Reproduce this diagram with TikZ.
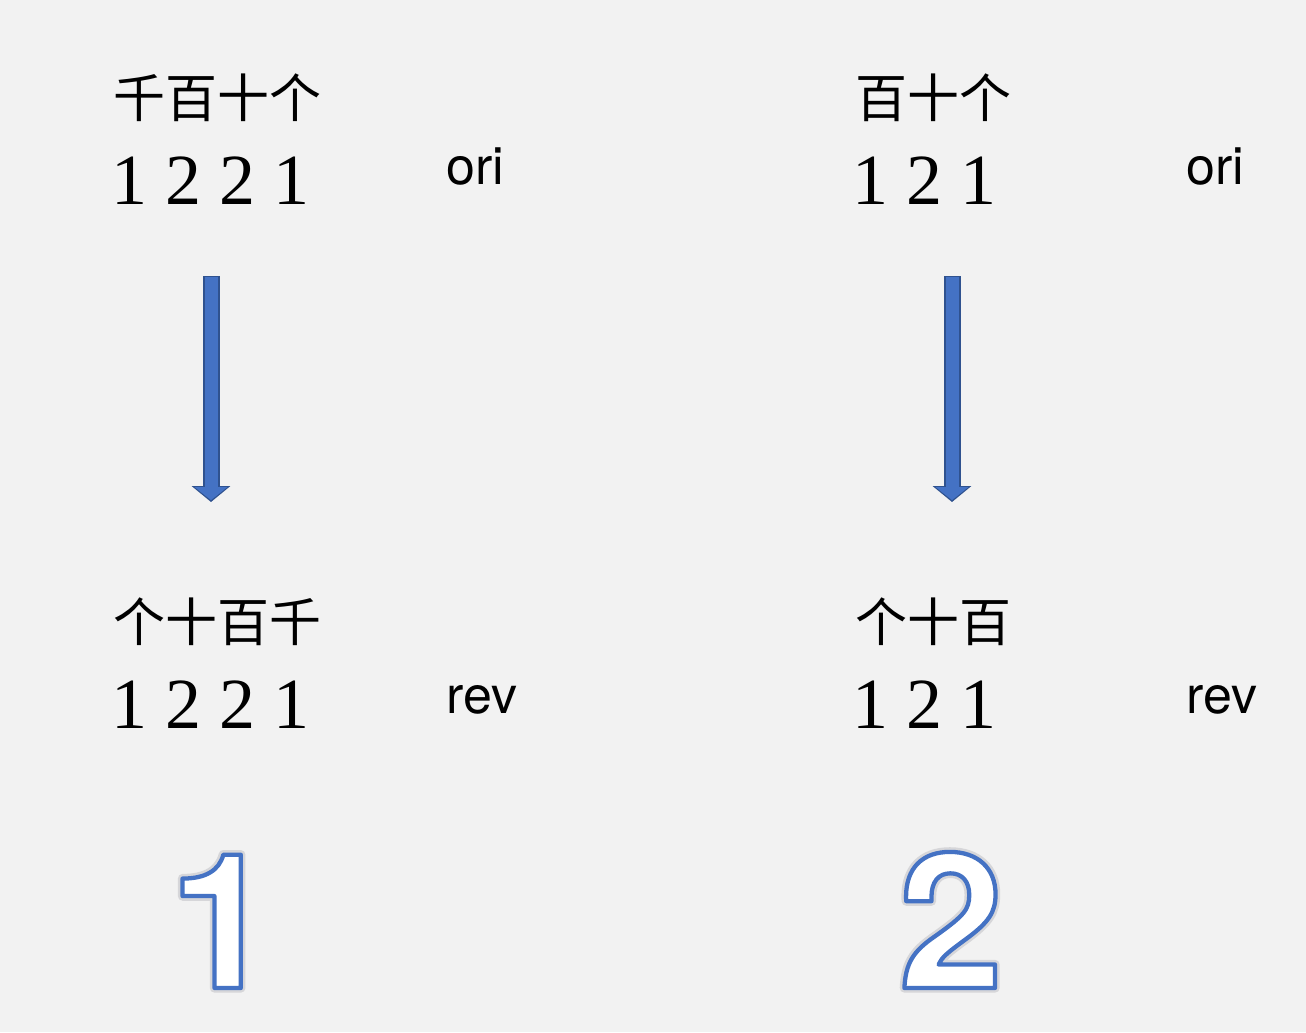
\documentclass[tikz,border=0pt]{standalone}
\usepackage{fontspec}
\setmainfont{Liberation Serif}
\newfontfamily\cjk{Noto Sans CJK SC}
\newfontfamily\sans{TeX Gyre Heros}
\usetikzlibrary{arrows.meta}
\definecolor{bg}{HTML}{F2F2F2}
\definecolor{arrowfill}{HTML}{4472C4}
\definecolor{arrowline}{HTML}{2F528F}
% outlined text: stroke width, stroke rgb, text (filled white)
\newcommand{\outlined}[3]{\special{pdf:code q}\color{white}%
    \special{pdf:code 2 Tr #1 w #2 RG 1 j}#3\special{pdf:code 0 Tr Q}}
\begin{document}
\begin{tikzpicture}[x=0.75pt, y=-0.75pt,
    han/.style = {anchor=west, inner sep=0pt, font=\cjk\fontsize{39}{39}\selectfont},
    num/.style = {anchor=base west, inner sep=0pt, font=\fontsize{54}{54}\selectfont},
    tag/.style = {anchor=base west, inner sep=0pt, font=\sans\fontsize{39}{39}\selectfont},
    big/.style = {anchor=base, inner sep=0pt, font=\sans\bfseries\fontsize{141}{141}\selectfont},
    flow/.style = {draw=arrowfill, line width=9.75pt, -{Triangle[width=24pt,length=9.75pt]},
        shorten >=1.4pt, shorten <=1.1pt,
        preaction={draw=arrowline, line width=12.75pt, -{Triangle[width=28.5pt,length=12pt]},
        shorten >=0pt, shorten <=0pt}}]
    \fill[bg] (0,0) rectangle (1306,1032);
    % left: four digits
    \node[han] (h1) at (113,98) {千百十个};
    \node[num] (d1) at (111,204) {1 2 2 1};
    \node[tag] (o1) at (446,184) {ori};
    \coordinate (s1) at (211,276);
    \coordinate (e1) at (211,502);
    \draw[flow] (s1) -- (e1);
    \node[han] (r1) at (113,622) {个十百千};
    \node[num] (n1) at (111,728) {1 2 2 1};
    \node[tag] (v1) at (446,713) {rev};
    \node[big] (g1) at (222,988) {\outlined{7}{0.84 0.84 0.85}{1}};
    \node[big] (b1) at (222,988) {\outlined{3.2}{0.267 0.447 0.769}{1}};
    % right: three digits
    \node[han] (h2) at (855,98) {百十个};
    \node[num] (d2) at (852,204) {1 2 1};
    \node[tag] (o2) at (1186,184) {ori};
    \coordinate (s2) at (952,276);
    \coordinate (e2) at (952,502);
    \draw[flow] (s2) -- (e2);
    \node[han] (r2) at (855,622) {个十百};
    \node[num] (n2) at (852,728) {1 2 1};
    \node[tag] (v2) at (1186,713) {rev};
    \node[big] (g2) at (951,988) {\outlined{7}{0.84 0.84 0.85}{2}};
    \node[big] (b2) at (951,988) {\outlined{3.2}{0.267 0.447 0.769}{2}};
\end{tikzpicture}
\end{document}
